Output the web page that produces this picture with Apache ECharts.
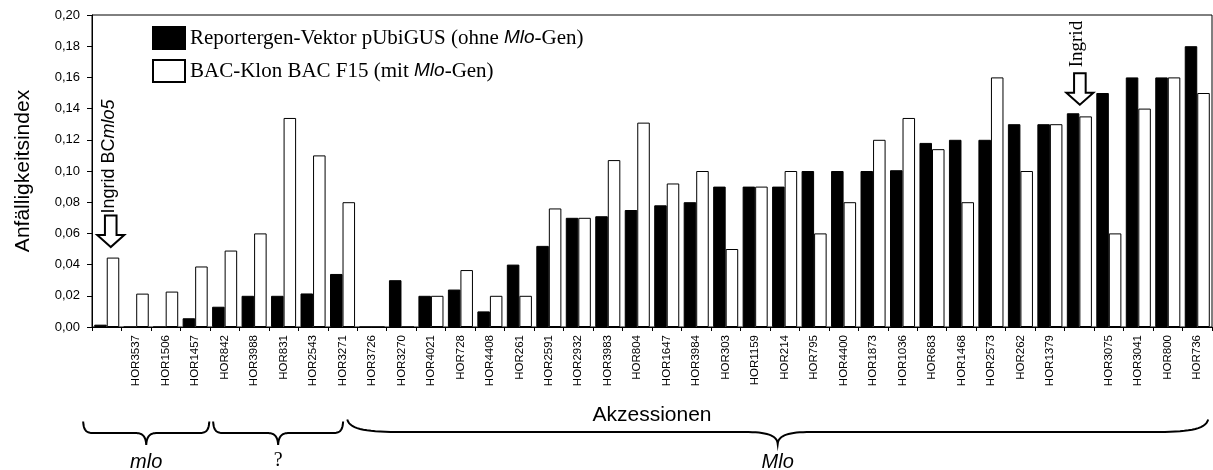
<!DOCTYPE html>
<html>
<head>
<meta charset="utf-8">
<script src="https://cdn.jsdelivr.net/npm/echarts@6/dist/echarts.min.js"></script>
<style>
  html, body { margin: 0; padding: 0; background: #fff; }
  #chart { width: 1213px; height: 470px; }
</style>
</head>
<body>
<div id="chart"></div>
<script>
// Accessions along the x axis (two unlabelled reference lines: Ingrid BC mlo5 and Ingrid)
const categories = [
  '', 'HOR3537', 'HOR1506', 'HOR1457',
  'HOR842', 'HOR3988', 'HOR831', 'HOR2543', 'HOR3271',
  'HOR3726', 'HOR3270', 'HOR4021', 'HOR728', 'HOR4408', 'HOR261', 'HOR2591', 'HOR2932',
  'HOR3983', 'HOR804', 'HOR1647', 'HOR3984', 'HOR303', 'HOR1159', 'HOR214', 'HOR795',
  'HOR4400', 'HOR1873', 'HOR1036', 'HOR683', 'HOR1468', 'HOR2573', 'HOR262', 'HOR1379',
  '', 'HOR3075', 'HOR3041', 'HOR800', 'HOR736'
];

// Anfälligkeitsindex with the reporter vector pUbiGUS (without Mlo gene)
const reporterValues = [
  0.0015, 0, 0, 0.0056,
  0.013, 0.020, 0.020, 0.0215, 0.034,
  0, 0.030, 0.020, 0.024, 0.010, 0.040, 0.052, 0.070,
  0.071, 0.075, 0.078, 0.080, 0.090, 0.090, 0.090, 0.100,
  0.100, 0.100, 0.1005, 0.118, 0.120, 0.120, 0.130, 0.130,
  0.137, 0.150, 0.160, 0.160, 0.180
];

// Anfälligkeitsindex with the BAC clone BAC F15 (with Mlo gene)
const bacValues = [
  0.0445, 0.0214, 0.0227, 0.0388,
  0.049, 0.060, 0.134, 0.110, 0.080,
  0, 0, 0.020, 0.0365, 0.020, 0.020, 0.076, 0.070,
  0.107, 0.131, 0.092, 0.100, 0.050, 0.090, 0.100, 0.060,
  0.080, 0.120, 0.134, 0.114, 0.080, 0.160, 0.100, 0.130,
  0.135, 0.060, 0.140, 0.160, 0.150
];

const seriesNames = [
  'Reportergen-Vektor pUbiGUS (ohne Mlo-Gen)',
  'BAC-Klon BAC F15 (mit Mlo-Gen)'
];

const yAxisTitle = 'Anfälligkeitsindex';
const xAxisTitle = 'Akzessionen';

// Genotype groups shown as braces under the axis (span in category units)
const groupLabels = ['mlo', '?', 'Mlo'];
const groupSpans = [[-0.3, 3.98], [4.11, 8.52], [8.66, 37.87]];

// Reference lines marked with an arrow above their bars
const markerIndices = [0, 33];
const markerTexts = ['{n|Ingrid BC}{i|mlo5}', '{s|Ingrid}'];

const SANS = "'Liberation Sans', Arial, sans-serif";
const SERIF = "'Liberation Serif', 'Times New Roman', serif";

const chart = echarts.init(document.getElementById('chart'), null, { renderer: 'canvas' });

chart.setOption({
  animation: false,
  backgroundColor: '#fff',
  textStyle: { fontFamily: SANS, color: '#000' },
  grid: {
    left: 92, right: 1, top: 15, bottom: 143,
    show: true, borderColor: '#000', borderWidth: 1, backgroundColor: 'transparent'
  },
  legend: {
    orient: 'vertical',
    left: 147, top: 21,
    itemWidth: 32, itemHeight: 22,
    itemGap: 9, itemTextGap: 6,
    icon: 'rect',
    selectedMode: false,
    data: seriesNames,
    formatter: name => name.replace('Mlo', '{i|Mlo}'),
    textStyle: {
      fontFamily: SERIF, fontSize: 21, color: '#000', lineHeight: 22,
      rich: {
        i: { fontFamily: SANS, fontStyle: 'italic', fontSize: 19, color: '#000', lineHeight: 22 }
      }
    }
  },
  xAxis: {
    type: 'category',
    data: categories,
    boundaryGap: true,
    name: xAxisTitle,
    nameLocation: 'middle',
    nameGap: 78,
    nameTextStyle: { fontFamily: SANS, fontSize: 21, color: '#000' },
    axisLine: { lineStyle: { color: '#000', width: 1 } },
    axisTick: { show: true, inside: false, length: 4, interval: 0, lineStyle: { color: '#000' } },
    axisLabel: {
      interval: 0, rotate: 90, margin: 8,
      fontFamily: SANS, fontSize: 11.5, color: '#000'
    },
    splitLine: { show: false }
  },
  yAxis: {
    type: 'value',
    min: 0, max: 0.2, interval: 0.02,
    name: yAxisTitle,
    nameLocation: 'middle',
    nameRotate: 90,
    nameGap: 58,
    nameTextStyle: { fontFamily: SANS, fontSize: 21, color: '#000' },
    axisLine: { show: true, lineStyle: { color: '#000', width: 1 } },
    axisTick: { show: true, inside: false, length: 5, lineStyle: { color: '#000' } },
    axisLabel: {
      margin: 12, fontFamily: SANS, fontSize: 13, color: '#000',
      formatter: v => v.toFixed(2).replace('.', ',')
    },
    splitLine: { show: false }
  },
  series: [
    {
      name: seriesNames[0],
      type: 'bar',
      data: reporterValues,
      barGap: '0%',
      barCategoryGap: '15%',
      itemStyle: { color: '#000', borderColor: '#000', borderWidth: 1 }
    },
    {
      name: seriesNames[1],
      type: 'bar',
      data: bacValues,
      barGap: '0%',
      barCategoryGap: '15%',
      itemStyle: { color: '#fff', borderColor: '#000', borderWidth: 1 }
    }
  ]
});

// ---- annotations: braces, group labels, arrows ----
const c0 = chart.convertToPixel({ xAxisIndex: 0 }, 0);
const c1 = chart.convertToPixel({ xAxisIndex: 0 }, 1);
const band = c1 - c0;
const unitX = u => c0 - band / 2 + u * band;
const yPix = v => chart.convertToPixel({ yAxisIndex: 0 }, v);

function cubic(p0, p1, p2, p3, n, out) {
  for (let k = 1; k <= n; k++) {
    const t = k / n, m = 1 - t;
    out.push([
      m * m * m * p0[0] + 3 * m * m * t * p1[0] + 3 * m * t * t * p2[0] + t * t * t * p3[0],
      m * m * m * p0[1] + 3 * m * m * t * p1[1] + 3 * m * t * t * p2[1] + t * t * t * p3[1]
    ]);
  }
}

function bracePoints(x0, x1, yEnd, yLine, yTip, rEnd, rTip) {
  const xm = (x0 + x1) / 2;
  const dTip = yTip - yLine, dEnd = yLine - yEnd;
  const pts = [[x0, yEnd]];
  cubic([x0, yEnd], [x0 + rEnd * 0.05, yEnd + dEnd * 0.85], [x0 + rEnd * 0.4, yLine], [x0 + rEnd, yLine], 16, pts);
  pts.push([xm - rTip, yLine]);
  cubic([xm - rTip, yLine], [xm - rTip * 0.35, yLine], [xm - 0.5, yLine + dTip * 0.25], [xm, yTip], 16, pts);
  cubic([xm, yTip], [xm + 0.5, yLine + dTip * 0.25], [xm + rTip * 0.35, yLine], [xm + rTip, yLine], 16, pts);
  pts.push([x1 - rEnd, yLine]);
  cubic([x1 - rEnd, yLine], [x1 - rEnd * 0.4, yLine], [x1 - rEnd * 0.05, yEnd + dEnd * 0.85], [x1, yEnd], 16, pts);
  return pts;
}

const graphics = [];

groupSpans.forEach((span, gi) => {
  const x0 = unitX(span[0]), x1 = unitX(span[1]);
  const wide = (span[1] - span[0]) > 10;
  const pts = wide
    ? bracePoints(x0, x1, 419.5, 432, 444, 55, 33)
    : bracePoints(x0, x1, 421.5, 433, 445, 10, 11);
  graphics.push({
    type: 'polyline', silent: true,
    shape: { points: pts },
    style: { stroke: '#000', lineWidth: 2, fill: null }
  });
  const isQ = groupLabels[gi] === '?';
  graphics.push({
    type: 'text', silent: true,
    x: (x0 + x1) / 2, y: isQ ? 461 : 462,
    style: {
      text: groupLabels[gi],
      fontFamily: isQ ? SERIF : SANS,
      fontStyle: isQ ? 'normal' : 'italic',
      fontSize: 20, fill: '#000',
      align: 'center', verticalAlign: 'middle'
    }
  });
});

// Down arrows with rotated labels above the reference lines
const arrowCfg = [
  { dx: 4, gap: 10.5, textDx: -2, textGap: 2 },
  { dx: 0.5, gap: 8.5, textDx: -2.5, textGap: 6 }
];
markerIndices.forEach((idx, mi) => {
  const cfg = arrowCfg[mi];
  const cx = chart.convertToPixel({ xAxisIndex: 0 }, idx) + cfg.dx;
  const top = Math.max(reporterValues[idx], bacValues[idx]);
  const tipY = yPix(top) - cfg.gap;
  const hw = 13.5, hh = 12, sw = 5.8, sl = 19.5;
  graphics.push({
    type: 'polygon', silent: true,
    shape: {
      points: [
        [cx, tipY], [cx - hw, tipY - hh], [cx - sw, tipY - hh], [cx - sw, tipY - hh - sl],
        [cx + sw, tipY - hh - sl], [cx + sw, tipY - hh], [cx + hw, tipY - hh]
      ]
    },
    style: { fill: '#fff', stroke: '#000', lineWidth: 2, lineJoin: 'miter' }
  });
  graphics.push({
    type: 'text', silent: true,
    x: cx + cfg.textDx, y: tipY - hh - sl - cfg.textGap,
    rotation: Math.PI / 2,
    style: {
      text: markerTexts[mi],
      align: 'left', verticalAlign: 'middle', fill: '#000',
      rich: {
        n: { fontFamily: SANS, fontSize: 18, fill: '#000' },
        i: { fontFamily: SANS, fontSize: 18, fontStyle: 'italic', fill: '#000' },
        s: { fontFamily: SERIF, fontSize: 19, fill: '#000' }
      }
    }
  });
});

chart.setOption({ graphic: graphics });
</script>
</body>
</html>
